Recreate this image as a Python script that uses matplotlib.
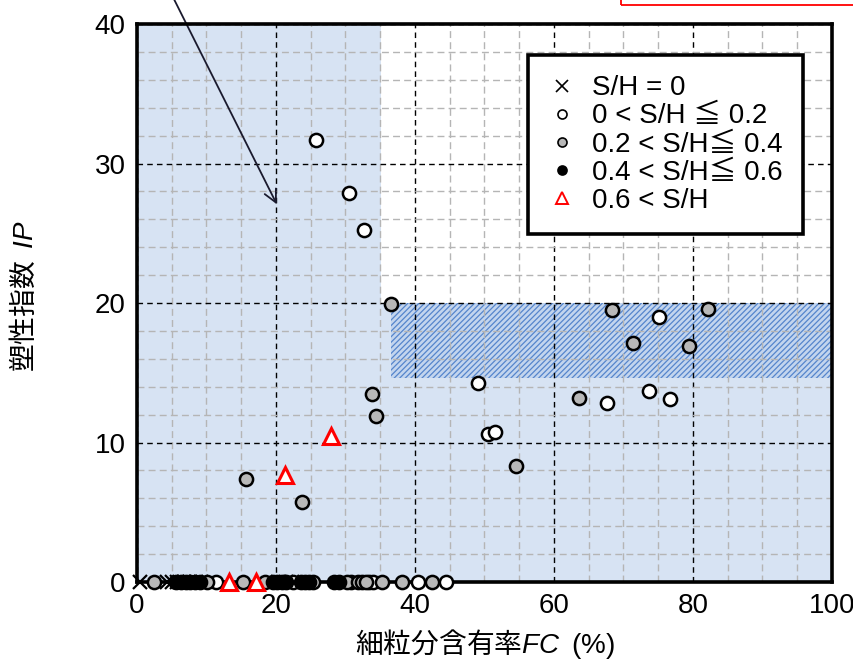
import matplotlib
matplotlib.use("Agg")
from matplotlib import pyplot as plt
from matplotlib.patches import Rectangle
from matplotlib.lines import Line2D

plt.rcParams["font.family"] = ["Liberation Sans", "Noto Sans CJK JP"]
plt.rcParams["mathtext.fontset"] = "custom"
plt.rcParams["mathtext.it"] = "Liberation Sans:italic"
plt.rcParams["mathtext.rm"] = "Liberation Sans"
plt.rcParams["hatch.linewidth"] = 0.9

# S/H = 0
fc_zero = [0.5, 4.3, 5.0, 5.8, 6.8, 7.6, 8.5, 9.2, 20.3, 21.5, 22.3]
ip_zero = [0] * len(fc_zero)

# 0 < S/H <= 0.2
fc_low = [25.8, 30.5, 32.7, 49.0, 67.7, 73.7, 76.7, 75.1, 50.5, 51.5,
          11.4, 22.4, 30.8, 33.4, 34.0, 40.4, 44.4]
ip_low = [31.7, 27.9, 25.2, 14.3, 12.8, 13.7, 13.1, 19.0, 10.6, 10.75,
          0, 0, 0, 0, 0, 0, 0]

# 0.2 < S/H <= 0.4
fc_mid = [36.6, 68.3, 82.1, 71.4, 79.4, 33.8, 34.4, 63.6, 54.6, 15.7, 23.7,
          2.4, 10.1, 15.3, 18.4, 25.3, 30.2, 31.8, 32.4, 33.0, 35.3, 38.1, 42.4]
ip_mid = [19.9, 19.5, 19.6, 17.1, 16.9, 13.5, 11.9, 13.2, 8.3, 7.4, 5.7,
          0, 0, 0, 0, 0, 0, 0, 0, 0, 0, 0, 0]

# 0.4 < S/H <= 0.6
fc_high = [5.6, 6.3, 7.0, 7.7, 8.4, 9.1, 19.6, 20.2, 20.9, 21.5,
           23.6, 24.2, 24.8, 28.4, 29.0]
ip_high = [0] * len(fc_high)

# 0.6 < S/H
fc_top = [21.3, 27.9, 13.3, 17.1]
ip_top = [7.7, 10.5, 0, 0]

labels = ["S/H = 0", "0 < S/H ≦ 0.2", "0.2 < S/H≦ 0.4",
          "0.4 < S/H≦ 0.6", "0.6 < S/H"]

fig = plt.figure(figsize=(8.54, 6.65), dpi=100)
ax = fig.add_axes([0.1604, 0.1248, 0.8138, 0.8391])
ax.set_xlim(0, 100)
ax.set_ylim(0, 40)

# shaded zones
blue = "#d7e3f3"
ax.add_patch(Rectangle((0, 0), 35.1, 40, facecolor=blue, edgecolor="none", zorder=0))
ax.add_patch(Rectangle((35.1, 0), 64.9, 14.6, facecolor=blue, edgecolor="none", zorder=0))
ax.add_patch(Rectangle((35.1, 14.6), 1.5, 5.4, facecolor=blue, edgecolor="none", zorder=0))
ax.add_patch(Rectangle((36.6, 14.6), 63.4, 5.4, facecolor="#c3d5ee", edgecolor="#5585cc",
                       linewidth=0, hatch="//////", zorder=0))

# grid
ax.set_axisbelow(True)
ax.set_xticks(range(0, 101, 20))
ax.set_yticks(range(0, 41, 10))
ax.set_xticks(range(0, 101, 5), minor=True)
ax.set_yticks(range(0, 41, 2), minor=True)
ax.grid(which="minor", color="#b5b5b5", linestyle=(0, (5, 3)), linewidth=1.0)
ax.grid(which="major", color="black", linestyle=(0, (4, 3)), linewidth=1.0)
ax.tick_params(which="both", length=0)
ax.tick_params(axis="x", labelsize=20, pad=8)
ax.tick_params(axis="y", labelsize=20, pad=8)
for sp in ax.spines.values():
    sp.set_linewidth(2.6)
    sp.set_zorder(3)

ms = 9.5
ax.plot(fc_zero, ip_zero, "x", color="black", ms=10, mew=1.6, clip_on=False, zorder=4)
ax.plot(fc_low, ip_low, "o", mfc="white", mec="black", ms=ms, mew=1.8, clip_on=False, zorder=4)
ax.plot(fc_mid, ip_mid, "o", mfc="#b8b8b8", mec="black", ms=ms, mew=1.8, clip_on=False, zorder=4)
ax.plot(fc_high, ip_high, "o", mfc="black", mec="black", ms=ms, mew=1.8, clip_on=False, zorder=4)
ax.plot(fc_top, ip_top, "^", mfc="white", mec="red", ms=11, mew=2.2, clip_on=False, zorder=5)

ax.annotate("", xy=(20.3, 26.9), xytext=(4.5, 42.6), xycoords="data",
            annotation_clip=False,
            arrowprops=dict(arrowstyle="->,head_length=0.9,head_width=0.45",
                            color="#1a1a2e", linewidth=1.3))

handles = [
    Line2D([], [], marker="x", linestyle="none", color="black", ms=9, mew=1.2),
    Line2D([], [], marker="o", linestyle="none", mfc="white", mec="black", ms=6.5, mew=1.2),
    Line2D([], [], marker="o", linestyle="none", mfc="#b8b8b8", mec="black", ms=6.5, mew=1.2),
    Line2D([], [], marker="o", linestyle="none", mfc="black", mec="black", ms=6.5, mew=1.2),
    Line2D([], [], marker="^", linestyle="none", mfc="white", mec="red", ms=8.5, mew=1.4),
]
leg = ax.legend(handles, labels, loc="upper right", bbox_to_anchor=(0.958, 0.944),
                fontsize=20, frameon=True, fancybox=False, framealpha=1,
                edgecolor="black", handlelength=1.0, handletextpad=0.6,
                labelspacing=0.08, borderpad=0.72, borderaxespad=0)
leg.get_frame().set_linewidth(2.6)
leg.set_zorder(6)

ax.set_xlabel("細粒分含有率$\\mathit{FC}$  $\\mathrm{(\\%)}$", fontsize=20,
              fontfamily="Noto Sans CJK JP", labelpad=6)
ax.set_ylabel("塑性指数  $\\mathit{IP}$", fontsize=20,
              fontfamily="Noto Sans CJK JP")
ax.yaxis.set_label_coords(-0.14, 0.513)

# red box cut off at the top edge
fig.patches.append(Rectangle((0.727, 0.9925), 0.4, 0.2, transform=fig.transFigure,
                             facecolor="none", edgecolor="red", linewidth=1.3))

fig.savefig("out.png", dpi=100)
